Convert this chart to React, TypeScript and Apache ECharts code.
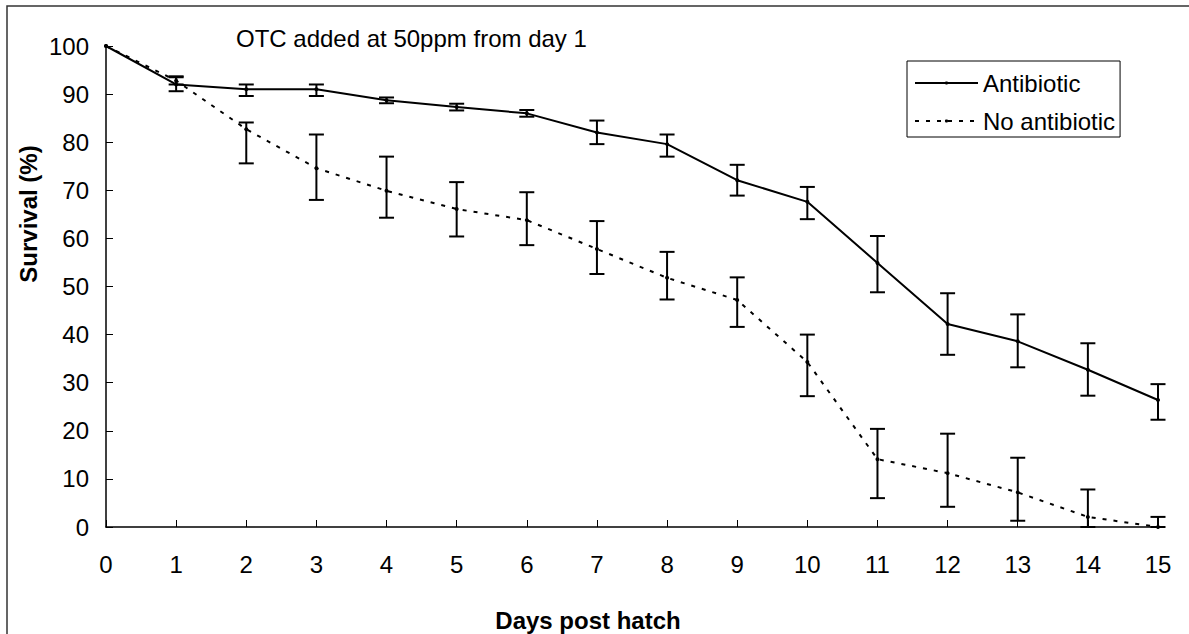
import React, { useEffect, useRef } from "react";
import * as echarts from "echarts";

const days = [0, 1, 2, 3, 4, 5, 6, 7, 8, 9, 10, 11, 12, 13, 14, 15];
const antibiotic = [100, 92, 91, 91, 88.7, 87.3, 86.0, 82.0, 79.6, 72.1, 67.6, 54.9, 42.2, 38.6, 32.7, 26.4];
const antibioticHigh = [null, 93.5, 92.0, 92.0, 89.3, 88.0, 86.7, 84.5, 81.6, 75.3, 70.7, 60.5, 48.6, 44.2, 38.2, 29.7];
const antibioticLow = [null, 90.6, 89.6, 89.6, 88.1, 86.6, 85.3, 79.6, 77.0, 68.9, 64.0, 48.8, 35.8, 33.2, 27.3, 22.3];
const noAntibiotic = [100, 92.8, 82.7, 74.6, 69.9, 66.1, 63.8, 57.8, 51.8, 47.2, 34.3, 14.1, 11.2, 7.2, 2.1, 0];
const noAntibioticHigh = [null, 93.7, 84.1, 81.6, 77.0, 71.7, 69.6, 63.6, 57.2, 51.9, 40.0, 20.4, 19.4, 14.4, 7.8, 2.1];
const noAntibioticLow = [null, 92.0, 75.6, 68.0, 64.3, 60.4, 58.6, 52.6, 47.3, 41.6, 27.2, 6.0, 4.2, 1.3, 0, 0];

const seriesNames = ["Antibiotic", "No antibiotic"];
const titleText = "OTC added at 50ppm from day 1";
const xName = "Days post hatch";
const yName = "Survival (%)";

const FONT = "'Liberation Sans', Arial, Helvetica, sans-serif";

function errData(lo: (number | null)[], hi: (number | null)[]) {
  const out: any[] = [];
  days.forEach((d, i) => {
    if (lo[i] !== null && hi[i] !== null) out.push([d, lo[i], hi[i]]);
  });
  return out;
}

function errRender(params: any, api: any) {
  const x = api.value(0);
  const pLo = api.coord([x, api.value(1)]);
  const pHi = api.coord([x, api.value(2)]);
  const hw = 7.5;
  const style = { stroke: "#000", lineWidth: 2 };
  return {
    type: "group",
    children: [
      { type: "line", shape: { x1: pLo[0], y1: pHi[1], x2: pLo[0], y2: pLo[1] }, style },
      { type: "line", shape: { x1: pLo[0] - hw, y1: pHi[1], x2: pLo[0] + hw, y2: pHi[1] }, style },
      { type: "line", shape: { x1: pLo[0] - hw, y1: pLo[1], x2: pLo[0] + hw, y2: pLo[1] }, style },
    ],
  };
}

export default function App() {
  const ref = useRef<HTMLDivElement>(null);
  useEffect(() => {
    if (!ref.current) return;
    const chart = echarts.init(ref.current, null, { renderer: "svg" });
    chart.setOption({
      animation: false,
      backgroundColor: "#fff",
      textStyle: { fontFamily: FONT },
      grid: { left: 106, top: 46, width: 1052, height: 481, containLabel: false },
      legend: {
        data: seriesNames,
        orient: "vertical",
        left: 907,
        top: 61,
        padding: [10, 5, 4, 7],
        itemGap: 14,
        itemWidth: 63,
        itemHeight: 4,
        borderColor: "#000",
        borderWidth: 1,
        textStyle: { fontSize: 24, color: "#000", fontFamily: FONT },
      },
      xAxis: {
        type: "value",
        min: 0,
        max: 15,
        interval: 1,
        axisLine: { lineStyle: { color: "#000", width: 1.5 } },
        axisTick: { inside: true, length: 7, lineStyle: { color: "#000" } },
        axisLabel: { fontSize: 24, color: "#000", margin: 25, fontFamily: FONT },
        splitLine: { show: false },
      },
      yAxis: {
        type: "value",
        min: 0,
        max: 100,
        interval: 10,
        axisLine: { show: true, lineStyle: { color: "#000", width: 1.5 } },
        axisTick: { show: true, inside: true, length: 7, lineStyle: { color: "#000" } },
        axisLabel: { fontSize: 24, color: "#000", margin: 17, fontFamily: FONT },
        splitLine: { show: false },
      },
      graphic: [
        {
          type: "rect",
          shape: { x: 7, y: 6, width: 1300, height: 800 },
          style: { fill: "none", stroke: "#333", lineWidth: 1.5 },
          silent: true,
        },
        {
          type: "text",
          left: 236,
          top: 26,
          style: { text: titleText, fontSize: 24, fill: "#000", fontFamily: FONT },
        },
        {
          type: "text",
          x: 588,
          y: 620,
          style: {
            text: xName,
            fontSize: 24,
            fontWeight: "bold",
            fill: "#000",
            fontFamily: FONT,
            align: "center",
            verticalAlign: "middle",
          },
        },
        {
          type: "text",
          x: 28,
          y: 214,
          rotation: Math.PI / 2,
          style: {
            text: yName,
            fontSize: 24,
            fontWeight: "bold",
            fill: "#000",
            fontFamily: FONT,
            align: "center",
            verticalAlign: "middle",
          },
        },
      ],
      series: [
        {
          name: seriesNames[0],
          type: "line",
          data: days.map((d, i) => [d, antibiotic[i]]),
          symbol: "circle",
          symbolSize: 4,
          itemStyle: { color: "#000" },
          lineStyle: { color: "#000", width: 2, type: "solid" },
          z: 3,
        },
        {
          name: seriesNames[1],
          type: "line",
          data: days.map((d, i) => [d, noAntibiotic[i]]),
          symbol: "circle",
          symbolSize: 4,
          itemStyle: { color: "#000" },
          lineStyle: { color: "#000", width: 2, type: [4, 7] },
          z: 3,
        },
        {
          type: "custom",
          name: "err1",
          data: errData(antibioticLow, antibioticHigh),
          renderItem: errRender,
          encode: { x: 0, y: [1, 2] },
          z: 2,
        },
        {
          type: "custom",
          name: "err2",
          data: errData(noAntibioticLow, noAntibioticHigh),
          renderItem: errRender,
          encode: { x: 0, y: [1, 2] },
          z: 2,
        },
      ],
    });
    return () => chart.dispose();
  }, []);
  return (
    <div
      ref={ref}
      style={{ position: "fixed", left: 0, top: 0, width: 1189, height: 634, background: "#fff" }}
    />
  );
}
